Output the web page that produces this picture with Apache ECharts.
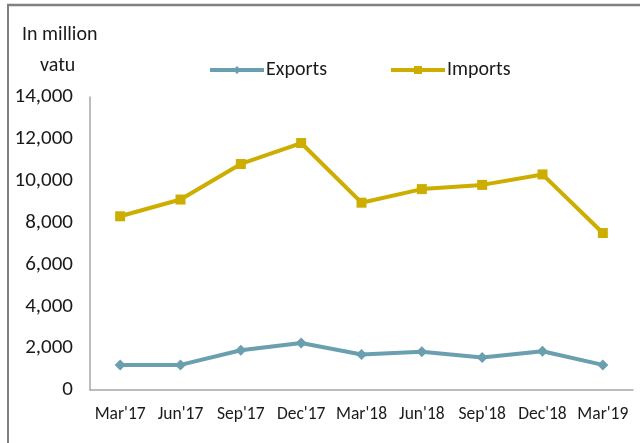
<!DOCTYPE html>
<html>
<head>
<meta charset="utf-8">
<script src="https://cdn.jsdelivr.net/npm/echarts@6/dist/echarts.min.js"></script>
<style>
html,body{margin:0;padding:0;background:#fff;}
#chart{width:640px;height:443px;}
</style>
</head>
<body>
<div id="chart"></div>
<script>
const categories = ["Mar'17","Jun'17","Sep'17","Dec'17","Mar'18","Jun'18","Sep'18","Dec'18","Mar'19"];
const exportsData = [1200, 1200, 1900, 2250, 1700, 1830, 1550, 1850, 1200];
const importsData = [8300, 9100, 10800, 11800, 8950, 9600, 9800, 10300, 7500];
const yTicks = {min: 0, max: 14000, interval: 2000};

const FONT = 'Carlito, "Liberation Sans Narrow", "Open Sans", sans-serif';
const chart = echarts.init(document.getElementById('chart'), null, {renderer: 'canvas'});
chart.setOption({
  animation: false,
  backgroundColor: '#fff',
  grid: {left: 90, right: 7, top: 97, bottom: 53, containLabel: false},
  legend: {
    left: 203, top: 55, itemWidth: 54, itemHeight: 10, itemGap: 62,
    lineStyle: {width: 4},
    textStyle: {fontFamily: FONT, fontSize: 20, color: '#1a1a1a', padding: [0,0,0,-3]},
    data: ['Exports','Imports']
  },
  xAxis: {
    type: 'category', data: categories, boundaryGap: true,
    axisLine: {lineStyle: {color: '#a6a6a6', width: 1.5}},
    axisTick: {show: false},
    axisLabel: {fontFamily: FONT, fontSize: 17.5, color: '#1a1a1a', margin: 16, interval: 0}
  },
  yAxis: {
    type: 'value', min: yTicks.min, max: yTicks.max, interval: yTicks.interval,
    axisLine: {show: true, lineStyle: {color: '#a6a6a6', width: 1.5}},
    axisTick: {show: false},
    splitLine: {show: false},
    axisLabel: {fontFamily: FONT, fontSize: 21, color: '#1a1a1a', margin: 17,
      formatter: v => v.toLocaleString('en-US')}
  },
  series: [
    {name: 'Exports', type: 'line', data: exportsData, symbol: 'diamond', symbolSize: 11,
      color: '#6a9fb0', lineStyle: {width: 4, color: '#6a9fb0'}, itemStyle: {color: '#6a9fb0'}},
    {name: 'Imports', type: 'line', data: importsData, symbol: 'rect', symbolSize: 10,
      color: '#ccad00', lineStyle: {width: 4, color: '#ccad00'}, itemStyle: {color: '#ccad00'}}
  ],
  graphic: [
    {type: 'line', shape: {x1: 7, y1: 5, x2: 640, y2: 5}, style: {stroke: '#808080', lineWidth: 2.5}},
    {type: 'line', shape: {x1: 8, y1: 5, x2: 8, y2: 443}, style: {stroke: '#808080', lineWidth: 2}},
    {type: 'text', left: 22, top: 25, style: {text: 'In million', fontFamily: FONT, fontSize: 20, fill: '#1a1a1a'}},
    {type: 'text', left: 40, top: 56, style: {text: 'vatu', fontFamily: FONT, fontSize: 20, fill: '#1a1a1a'}}
  ]
});
</script>
</body>
</html>
